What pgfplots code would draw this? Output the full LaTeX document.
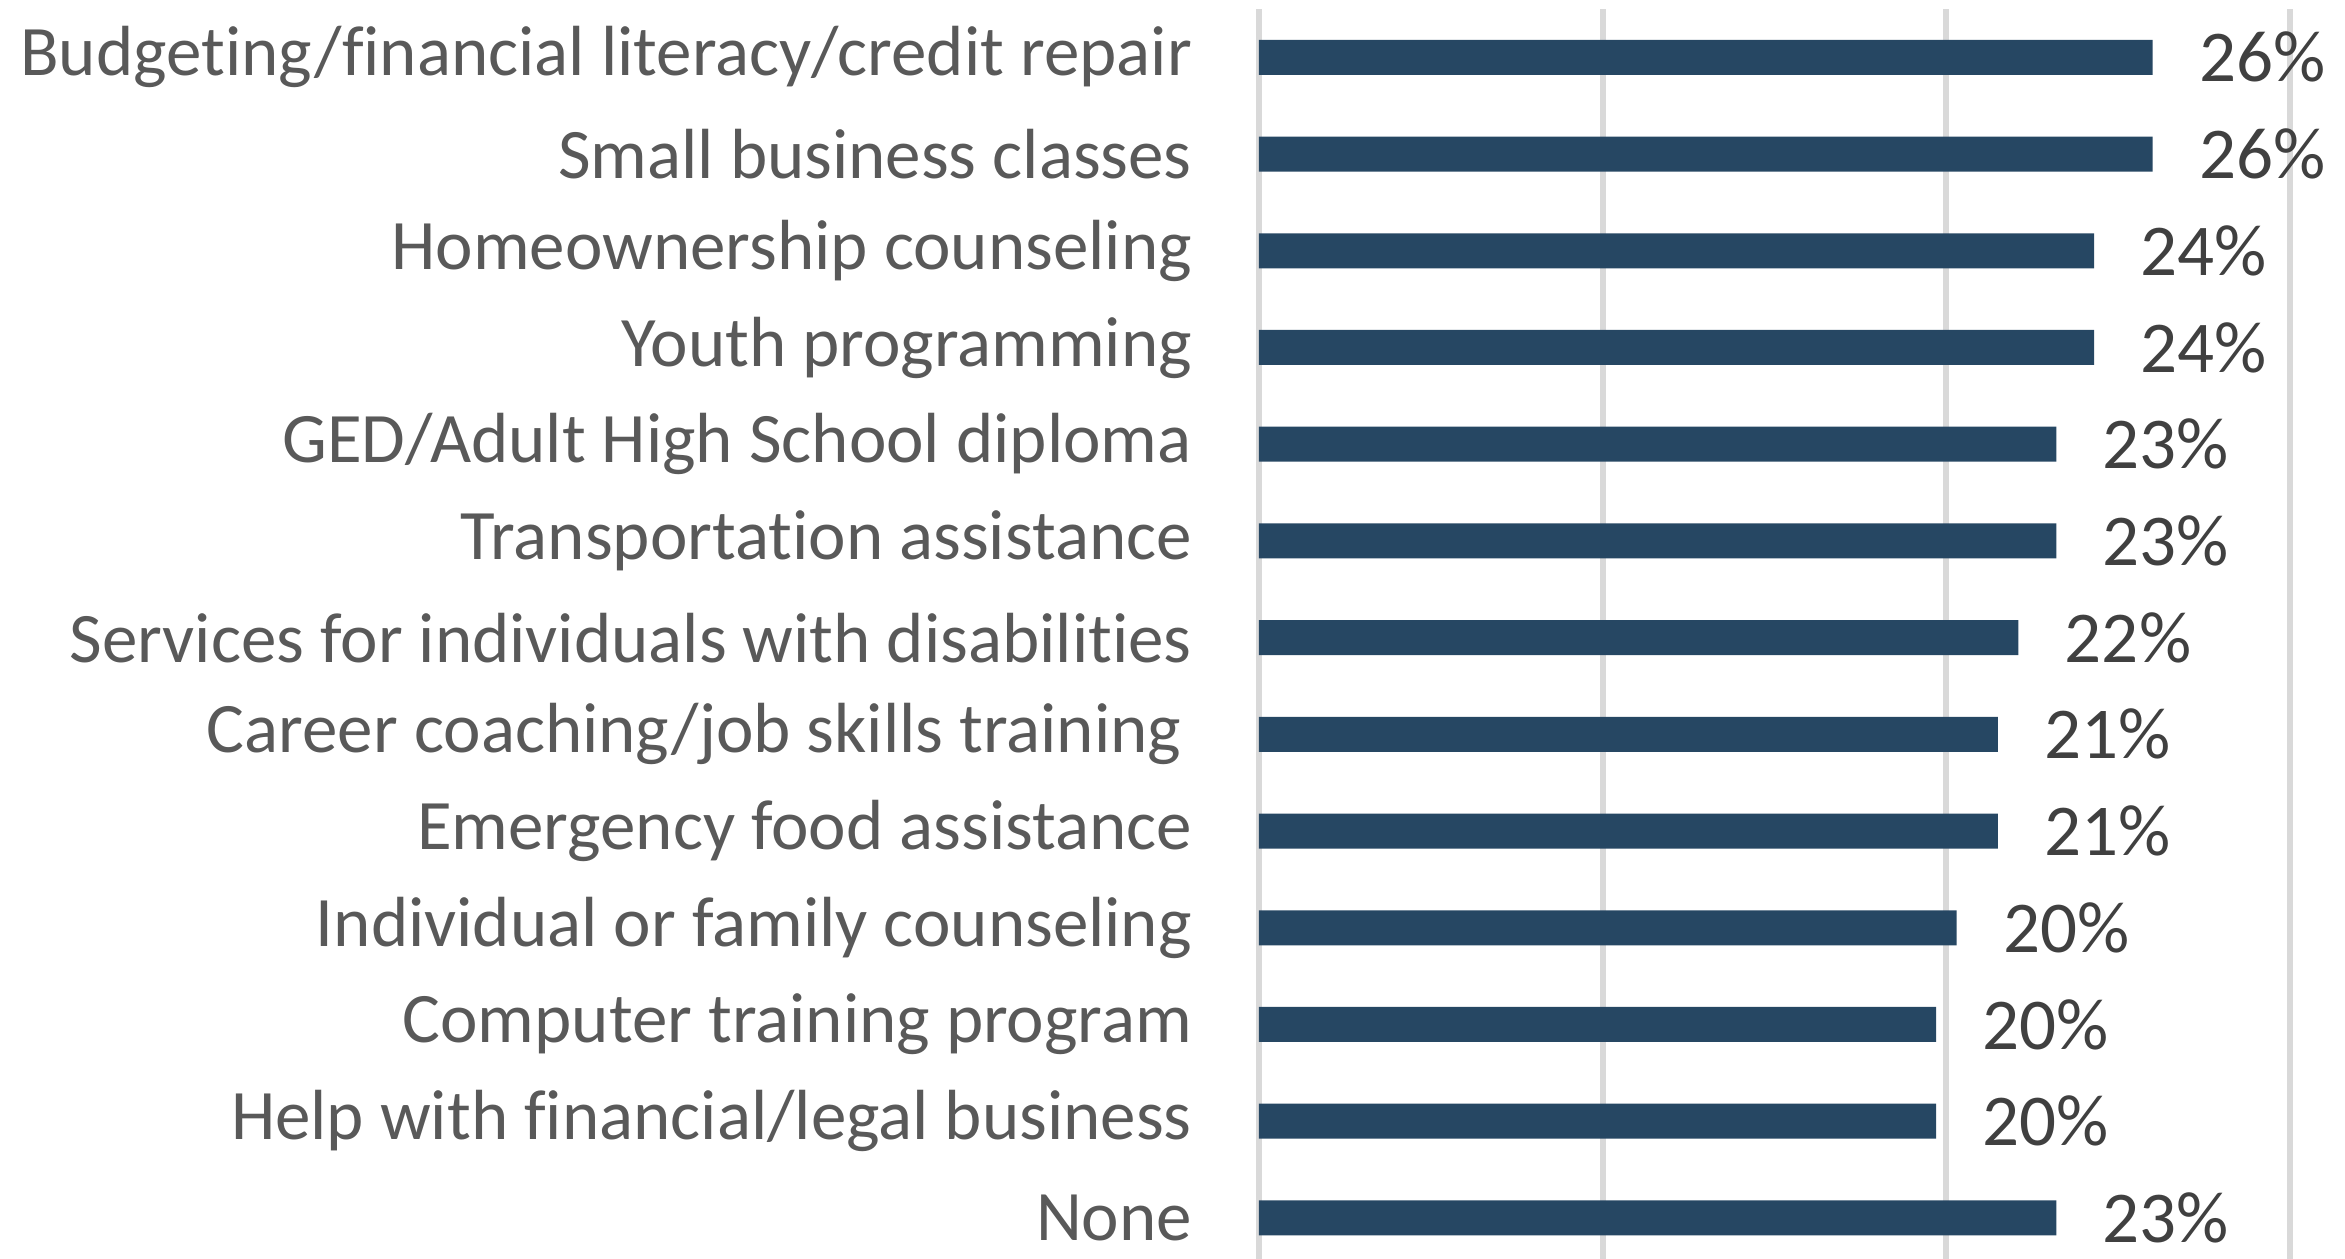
\documentclass[border=0pt]{standalone}
\usepackage{pgfplots}
\pgfplotsset{compat=1.18}
\usepackage{pgfplotstable}
\usepackage{fontspec}
\setmainfont{Carlito}[Ligatures=NoCommon]
\definecolor{barc}{HTML}{264763}
\definecolor{lab}{HTML}{595959}
\definecolor{dlab}{HTML}{404040}
\definecolor{gridc}{HTML}{D9D9D9}
\pgfplotstableread[col sep=comma]{
y,x,lab
0,26.0,26
1,26.0,26
2,24.3,24
3,24.3,24
4,23.2,23
5,23.2,23
6,22.1,22
7,21.5,21
8,21.5,21
9,20.3,20
10,19.7,20
11,19.7,20
12,23.2,23
}\datatable
\newcommand{\lf}{\fontsize{14.2}{17}\selectfont}
\newcommand{\df}{\fontsize{14.6}{17}\selectfont}
\begin{document}
\begin{tikzpicture}
\begin{axis}[
  scale only axis, width=206.2pt, height=250pt,
  anchor=south west, at={(0,0)},
  xmin=0, xmax=30, ymin=-0.5, ymax=12.425, y dir=reverse,
  xbar, bar width=7pt,
  xtick={0,10,20,30}, xticklabels={,,,},
  xmajorgrids, ymajorgrids=false,
  major grid style={draw=gridc, line width=1.2pt},
  ytick={0,...,12},
  yticklabels={Budgeting/financial literacy/credit repair,
    Small business classes,
    Homeownership counseling,
    Youth programming,
    GED/Adult High School diploma,
    Transportation assistance,
    Services for individuals with disabilities,
    {Career coaching/job skills training\kern 2.1pt\relax},
    Emergency food assistance,
    Individual or family counseling,
    Computer training program,
    Help with financial/legal business,
    None},
  axis line style={draw=none}, major tick length=0pt,
  yticklabel style={font=\lf, text=lab, inner sep=0pt, xshift=-13.2pt},
  point meta=explicit symbolic,
  nodes near coords={\pgfplotspointmeta\%},
  nodes near coords style={font=\df, text=dlab, anchor=west, inner sep=0pt, xshift=9.1pt},
]
\addplot[draw=none, fill=barc] table[x=x, y=y, meta=lab] {\datatable};
\end{axis}
\pgfresetboundingbox
\path (-251.8pt,0) rectangle (217.2pt,251.8pt);
\end{tikzpicture}
\end{document}
